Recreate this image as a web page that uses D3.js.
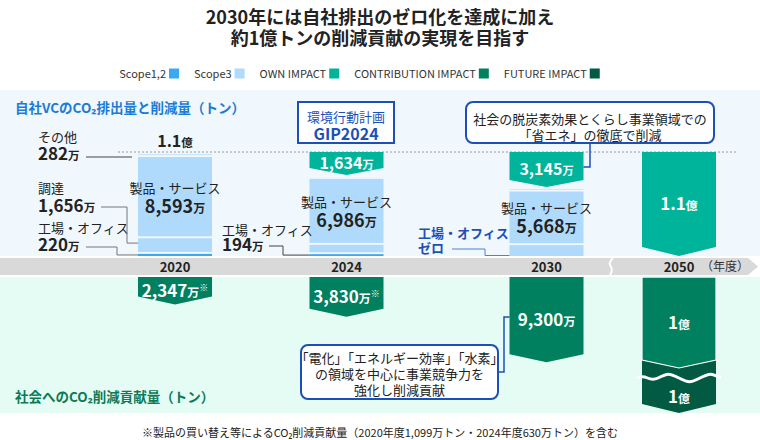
<!DOCTYPE html>
<html><head><meta charset="utf-8">
<script src="https://cdn.jsdelivr.net/npm/d3@7"></script>
<style>
body{margin:0;background:#fff;}
svg{display:block;font-family:"Noto Sans CJK JP","Noto Sans",sans-serif;}
</style></head>
<body><svg id="c" width="760" height="440"></svg>
<script>
// ---- data ----
const years = [2020, 2024, 2030, 2050];
const yearLabels = ["2020", "2024", "2030", "2050"];
const baseline = 11000;                    // 1.1億 (万トン)
const factory = [220, 194, 0, 0];           // Scope1,2 工場・オフィス
const procurement = [1656, 980, 1150, 0];   // Scope3 調達
const products = [8593, 6986, 5668, 0];     // Scope3 製品・サービス
const other = [282, 200, 270, 0];           // Scope3 その他
const ownImpact = [0, 1634, 3145, 11000];
const contribution = [2347, 3830, 9300, 10000];
const future = [0, 0, 0, 10000];
const ownLabels = ["", "1,634", "3,145", "1.1"];
const ownUnits = ["", "万", "万", "億"];
const contribLabels = ["2,347", "3,830", "9,300", "1"];
const contribUnits = ["万", "万", "万", "億"];
const contribNote = ["※", "※", "", ""];
const productLabels = ["8,593", "6,986", "5,668", ""];
const legendNames = ["Scope1,2", "Scope3", "OWN IMPACT", "CONTRIBUTION IMPACT", "FUTURE IMPACT"];
const legendColors = ["#3aa9f2", "#b0dafb", "#00b49c", "#00805f", "#015a41"];

const C = {s12: legendColors[0], s3: legendColors[1], own: legendColors[2], con: legendColors[3], fut: legendColors[4]};
const svg = d3.select("#c");

// scales
const x = d3.scaleLinear().domain(years).range([175, 346.5, 546.5, 679]);
const yU = d3.scaleLinear().domain([0, baseline]).range([256, 152]);
const yL = d3.scaleLinear().domain([0, 10000]).range([277, 360]);
const bw = 74, head = 8;

// backgrounds
svg.append("rect").attr("x",0).attr("y",90).attr("width",760).attr("height",166).attr("fill","#f0f7fd");
svg.append("rect").attr("x",0).attr("y",277).attr("width",760).attr("height",136).attr("fill","#e5fcf5");
svg.append("path").attr("d","M0,258H748L758,266.5L748,275H0Z").attr("fill","#d9d9d9");
svg.append("path").attr("d","M613,258C609,262 609,264 611,267C613,270 612,272 610,275").attr("fill","none").attr("stroke","#fff").attr("stroke-width",2);

// title
svg.append("text").attr("x",380).attr("y",24).attr("text-anchor","middle").attr("font-size",18).attr("font-weight",700).attr("fill","#222").text("2030年には自社排出のゼロ化を達成に加え");
svg.append("text").attr("x",380).attr("y",45).attr("text-anchor","middle").attr("font-size",18).attr("font-weight",700).attr("fill","#222").text("約1億トンの削減貢献の実現を目指す");

// legend (laid out sequentially, centred)
const lg = svg.append("g").attr("font-size",11).attr("fill","#333");
let cx0 = 0;
const items = legendNames.map((n,i)=>{
  const t = lg.append("text").attr("y",78).text(n);
  const w = t.node().getComputedTextLength();
  const it = {t, w, x: cx0, i};
  cx0 += w + 3 + 10 + 15;
  return it;
});
const totalW = cx0 - 15, off = 359.5 - totalW/2;
items.forEach(it=>{
  it.t.attr("x", off + it.x);
  lg.append("rect").attr("x",off+it.x+it.w+3).attr("y",68.5).attr("width",10).attr("height",10).attr("fill",legendColors[it.i]);
});

// section titles
svg.append("text").attr("x",15).attr("y",113).attr("font-size",13.5).attr("font-weight",700).attr("fill","#1b7bd6").text("自社VCのCO₂排出量と削減量（トン）");
svg.append("text").attr("x",15).attr("y",402).attr("font-size",13.5).attr("font-weight",700).attr("fill","#0b7a57").text("社会へのCO₂削減貢献量（トン）");

// dotted baseline
svg.append("line").attr("x1",118).attr("x2",737).attr("y1",yU(baseline)).attr("y2",yU(baseline)).attr("stroke","#9a9a9a").attr("stroke-dasharray","2,2");

// stacked bars
const segs = [];
years.forEach((yr,i)=>{
  const parts = [[factory[i],C.s12,"f"],[procurement[i],C.s3,"p"],[products[i],C.s3,"m"],[other[i],C.s3,"o"]];
  let cum = 0;
  parts.forEach(([v,col,k])=>{
    if(v<=0) return;
    segs.push({i,k,col,y0:yU(cum),y1:yU(cum+v),top: cum>0});
    cum += v;
  });
});
const bars = svg.append("g");
segs.forEach(s=>{
  const y1 = s.y1, y0 = s.top ? s.y0 - 2 : s.y0;
  bars.append("rect").attr("x",x(years[s.i])-bw/2).attr("width",bw).attr("y",y1).attr("height",Math.max(0,y0-y1)).attr("fill",s.col);
});
const seg = (i,k)=>segs.find(s=>s.i===i&&s.k===k);
const total = i => factory[i]+procurement[i]+products[i]+other[i];

// product labels
years.forEach((yr,i)=>{
  const s = seg(i,"m"); if(!s) return;
  const mid = (s.y0+s.y1)/2;
  svg.append("text").attr("x",x(yr)).attr("y",mid-5).attr("text-anchor","middle").attr("font-size",13).attr("fill","#222").text("製品・サービス");
  const t = svg.append("text").attr("x",x(yr)).attr("y",mid+15).attr("text-anchor","middle").attr("font-weight",700).attr("fill","#222");
  t.append("tspan").attr("font-size",18).text(productLabels[i]);
  t.append("tspan").attr("font-size",12).text("万");
});

// arrow path helper
function arrow(cx, top, bodyEnd, tip){
  const l = cx-bw/2, r = cx+bw/2;
  return `M${l},${top}H${r}V${bodyEnd}L${cx},${tip}L${l},${bodyEnd}Z`;
}
function valueText(cx, cy, num, unit, note, size){
  const t = svg.append("text").attr("x",cx).attr("y",cy+size*0.36).attr("text-anchor","middle").attr("font-weight",700).attr("fill","#fff");
  t.append("tspan").attr("font-size",size).text(num);
  t.append("tspan").attr("font-size",size*0.7).text(unit);
  if(note) t.append("tspan").attr("font-size",9).attr("dy",-6).text(note);
}

// OWN IMPACT arrows (top): from 1.1億 line down to the remaining emissions
years.forEach((yr,i)=>{
  const v = ownImpact[i]; if(!v) return;
  const top = yU(baseline);
  const tip = total(i)>0 ? yU(total(i)) - 2 : yU(baseline - v);
  const h = i===3 ? 9 : 7;
  svg.append("path").attr("d",arrow(x(yr),top,tip-h,tip)).attr("fill",C.own);
  valueText(x(yr),(top+tip)/2,ownLabels[i],ownUnits[i],"",i===3?17:16);
});

// FUTURE (drawn first, below contribution)
years.forEach((yr,i)=>{
  const v = future[i]; if(!v) return;
  const cTop = yL(contribution[i]);
  const len = (yL(v)-yL(0))*0.53;
  const cx = x(yr), l = cx-bw/2, r = cx+bw/2;
  const b = cTop+len;
  svg.append("path").attr("d",`M${l},${cTop}L${cx},${cTop+head}L${r},${cTop}V${b}L${cx},${b+head+1}L${l},${b}Z`).attr("fill",C.fut);
  const wy = cTop + head + 10, wl = l-5, wr = r+5;
  svg.append("path").attr("d",`M${wl},${wy}C${wl+10},${wy-5} ${wl+11},${wy+5} ${wl+21},${wy}S${wl+32},${wy-5} ${wl+42},${wy}S${wl+53},${wy+5} ${wl+63},${wy}S${wl+74},${wy-5} ${wr},${wy}`).attr("fill","none").attr("stroke","#fff").attr("stroke-width",3);
  valueText(cx,(wy+b+head)/2+2,"1","億","",17);
});

// CONTRIBUTION arrows (bottom)
years.forEach((yr,i)=>{
  const v = contribution[i];
  const top = yL(0), bodyEnd = yL(v), tip = bodyEnd+head;
  svg.append("path").attr("d",arrow(x(yr),top,bodyEnd,tip)).attr("fill",C.con).attr("stroke",future[i]?"#fff":"none").attr("stroke-width",1.2);
  valueText(x(yr),(top+tip)/2,contribLabels[i],contribUnits[i],contribNote[i],17);
});
svg.append("rect").attr("x",x(2050)-bw/2-1).attr("y",yL(0)-1.5).attr("width",bw+2).attr("height",2).attr("fill","#e5fcf5");

// year labels
years.forEach((yr,i)=>{
  svg.append("text").attr("x",x(yr)).attr("y",271.5).attr("text-anchor","middle").attr("font-size",13).attr("font-weight",700).attr("fill","#222").text(yearLabels[i]);
});
svg.append("text").attr("x",725).attr("y",271).attr("text-anchor","middle").attr("font-size",12).attr("fill","#333").text("（年度）");

// left annotations (2020)
function label2(xp, y1, y2, t1, num, unit, col){
  svg.append("text").attr("x",xp).attr("y",y1).attr("font-size",13).attr("fill",col).text(t1);
  const t = svg.append("text").attr("x",xp).attr("y",y2).attr("font-weight",700).attr("fill",col);
  t.append("tspan").attr("font-size",17).text(num);
  if(unit) t.append("tspan").attr("font-size",11.5).text(unit);
}
const L0 = x(2020)-bw/2;
label2(38,142,160,"その他","282","万","#222");
label2(38,193,212,"調達","1,656","万","#222");
label2(38,233,251,"工場・オフィス","220","万","#222");
const sp = seg(0,"p"), sf = seg(0,"f");
svg.append("path").attr("d",`M86,157H${L0-6}`).attr("stroke","#444").attr("fill","none");
svg.append("path").attr("d",`M101,207H127V${(sp.y0+sp.y1)/2-3}H${L0}`).attr("stroke","#777").attr("fill","none");
svg.append("path").attr("d",`M86,247H117V${(sf.y0+sf.y1)/2}H${L0}`).attr("stroke","#777").attr("fill","none");
svg.append("text").attr("x",x(2020)).attr("y",147).attr("text-anchor","middle").attr("font-weight",700).attr("fill","#222")
  .call(t=>{t.append("tspan").attr("font-size",16).text("1.1");t.append("tspan").attr("font-size",11.5).text("億");});

// 2024 factory
label2(222,235,251,"工場・オフィス","194","万","#222");
const sf1 = seg(1,"f");
svg.append("path").attr("d",`M269,246H283V${(sf1.y0+sf1.y1)/2}H${x(2024)-bw/2}`).attr("stroke","#444").attr("fill","none");

// 2030 factory zero
svg.append("text").attr("x",418).attr("y",238).attr("font-size",13).attr("font-weight",700).attr("fill","#1d4fb8").text("工場・オフィス");
svg.append("text").attr("x",418).attr("y",253).attr("font-size",13).attr("font-weight",700).attr("fill","#1d4fb8").text("ゼロ");
svg.append("path").attr("d",`M452,249H485V${yU(0)-0.5}H${x(2030)-bw/2}`).attr("stroke","#4d82d4").attr("fill","none");

// GIP box
svg.append("rect").attr("x",298).attr("y",102).attr("width",96).attr("height",41).attr("fill","#fff").attr("stroke","#1d4fb8").attr("stroke-width",2);
svg.append("text").attr("x",346).attr("y",122).attr("text-anchor","middle").attr("font-size",13).attr("fill","#1d4fb8").text("環境行動計画");
svg.append("text").attr("x",346).attr("y",140).attr("text-anchor","middle").attr("font-size",16).attr("font-weight",700).attr("fill","#1d4fb8").text("GIP2024");

// top callout
svg.append("path").attr("d",`M590,143V167H${x(2030)+bw/2}`).attr("stroke","#1d4fb8").attr("fill","none").attr("stroke-width",1.5);
svg.append("rect").attr("x",466).attr("y",102).attr("width",248).attr("height",41).attr("rx",7).attr("fill","#fff").attr("stroke","#1d4fb8").attr("stroke-width",2);
svg.append("text").attr("x",590).attr("y",124).attr("text-anchor","middle").attr("font-size",13).attr("fill","#222").text("社会の脱炭素効果とくらし事業領域での");
svg.append("text").attr("x",590).attr("y",140).attr("text-anchor","middle").attr("font-size",13).attr("fill","#222").text("「省エネ」の徹底で削減");

// bottom callout
svg.append("path").attr("d",`M498,372H504V317H${x(2030)-bw/2}`).attr("stroke","#1d4fb8").attr("fill","none").attr("stroke-width",1.5);
svg.append("rect").attr("x",301).attr("y",345).attr("width",197).attr("height",54).attr("rx",7).attr("fill","#fff").attr("stroke","#1d4fb8").attr("stroke-width",2);
["「電化」「エネルギー効率」「水素」","の領域を中心に事業競争力を","強化し削減貢献"].forEach((s,k)=>{
  svg.append("text").attr("x",399.5).attr("y",363+k*16).attr("text-anchor","middle").attr("font-size",13).attr("fill","#222").text(s);
});

// footnote
svg.append("text").attr("x",380).attr("y",437).attr("text-anchor","middle").attr("font-size",11).attr("fill","#222").text("※製品の買い替え等によるCO₂削減貢献量（2020年度1,099万トン・2024年度630万トン）を含む");
</script></body></html>
